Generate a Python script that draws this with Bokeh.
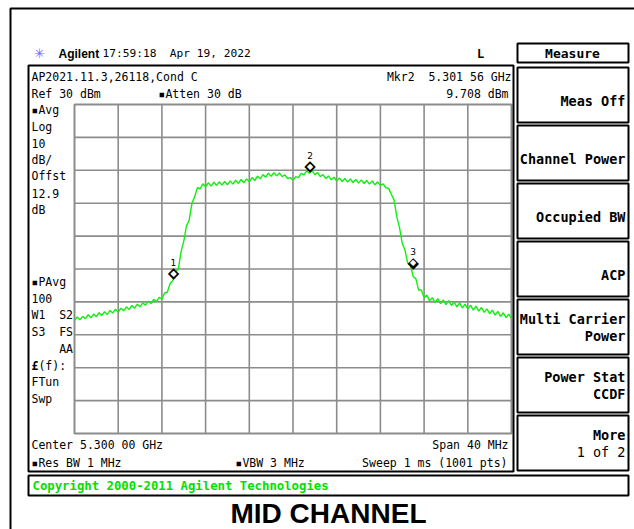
from bokeh.plotting import figure
from bokeh.models import Range1d, Label, BoxAnnotation, ColumnDataSource
from bokeh.core.properties import value
from bokeh.embed import file_html
from bokeh.resources import INLINE

# ---- trace data (frequency in MHz, level in dBm) ----
freq_mhz = [
    5280.00, 5280.25, 5280.50, 5280.75, 5281.00, 5281.25, 5281.50, 5281.75,
    5282.00, 5282.25, 5282.50, 5282.75, 5283.00, 5283.25, 5283.50, 5283.75,
    5284.00, 5284.25, 5284.50, 5284.75, 5285.00, 5285.25, 5285.50, 5285.75,
    5286.00, 5286.25, 5286.50, 5286.75, 5287.00, 5287.25, 5287.50, 5287.75,
    5288.00, 5288.25, 5288.50, 5288.75, 5289.00, 5289.25, 5289.50, 5289.75,
    5290.00, 5290.25, 5290.50, 5290.75, 5291.00, 5291.25, 5291.50, 5291.75,
    5292.00, 5292.25, 5292.50, 5292.75, 5293.00, 5293.25, 5293.50, 5293.75,
    5294.00, 5294.25, 5294.50, 5294.75, 5295.00, 5295.25, 5295.50, 5295.75,
    5296.00, 5296.25, 5296.50, 5296.75, 5297.00, 5297.25, 5297.50, 5297.75,
    5298.00, 5298.25, 5298.50, 5298.75, 5299.00, 5299.25, 5299.50, 5299.75,
    5300.00, 5300.25, 5300.50, 5300.75, 5301.00, 5301.25, 5301.50, 5301.75,
    5302.00, 5302.25, 5302.50, 5302.75, 5303.00, 5303.25, 5303.50, 5303.75,
    5304.00, 5304.25, 5304.50, 5304.75, 5305.00, 5305.25, 5305.50, 5305.75,
    5306.00, 5306.25, 5306.50, 5306.75, 5307.00, 5307.25, 5307.50, 5307.75,
    5308.00, 5308.25, 5308.50, 5308.75, 5309.00, 5309.25, 5309.50, 5309.75,
    5310.00, 5310.25, 5310.50, 5310.75, 5311.00, 5311.25, 5311.50, 5311.75,
    5312.00, 5312.25, 5312.50, 5312.75, 5313.00, 5313.25, 5313.50, 5313.75,
    5314.00, 5314.25, 5314.50, 5314.75, 5315.00, 5315.25, 5315.50, 5315.75,
    5316.00, 5316.25, 5316.50, 5316.75, 5317.00, 5317.25, 5317.50, 5317.75,
    5318.00, 5318.25, 5318.50, 5318.75, 5319.00, 5319.25, 5319.50, 5319.75,
    5320.00,
]
level_dbm = [
    -35.6, -34.6, -35.4, -34.4, -35.1, -33.9, -34.8, -33.7,
    -34.5, -33.3, -34.1, -33.0, -33.8, -32.6, -33.4, -32.2,
    -33.1, -31.9, -32.7, -31.5, -32.3, -31.1, -31.9, -30.7,
    -31.5, -30.3, -31.0, -29.8, -30.5, -29.2, -29.9, -28.6,
    -29.0, -27.3, -27.0, -24.4, -23.6, -20.8, -20.1, -14.8,
    -11.6, -6.9, -5.1, 0.0, 2.0, 4.7, 4.4, 5.9,
    5.0, 6.2, 5.2, 6.4, 5.4, 6.5, 5.5, 6.6,
    5.6, 6.8, 5.8, 7.0, 6.0, 7.2, 6.2, 7.4,
    6.5, 7.8, 6.9, 8.2, 7.4, 8.7, 7.9, 9.1,
    8.2, 9.3, 8.3, 9.2, 8.1, 8.6, 7.5, 7.8,
    7.0, 8.1, 7.8, 9.1, 8.6, 9.8, 9.1, 9.9,
    8.7, 9.3, 8.1, 8.7, 7.5, 8.3, 7.1, 7.9,
    6.7, 7.7, 6.6, 7.5, 6.4, 7.4, 6.3, 7.2,
    6.1, 7.1, 6.0, 6.9, 5.8, 6.8, 5.6, 6.5,
    5.4, 5.9, 4.7, 4.5, 2.7, 1.0, -4.1, -7.4,
    -12.2, -14.3, -18.2, -18.7, -22.3, -23.0, -26.4, -26.4,
    -28.7, -27.9, -29.7, -28.7, -30.2, -29.0, -30.5, -29.4,
    -30.8, -29.6, -31.1, -30.0, -31.5, -30.3, -31.8, -30.7,
    -32.1, -31.0, -32.5, -31.3, -32.8, -31.7, -33.2, -32.1,
    -33.6, -32.5, -34.0, -32.9, -34.4, -33.3, -34.8, -33.7,
    -35.0,
]

marker_freq_mhz = [5289.06, 5301.56, 5311.00]
marker_level_dbm = [-22.8, 9.708, -19.6]
marker_names = ["1", "2", "3"]

# screen settings: center 5300 MHz, span 40 MHz, ref 30 dBm, 10 dB/div
span_start, span_stop = 5280, 5320
ref_level, bottom_level = 30, -70
x_divisions = [5284, 5288, 5292, 5296, 5300, 5304, 5308, 5312, 5316]
y_divisions = [20, 10, 0, -10, -20, -30, -40, -50, -60]

left_annotations = ["▪Avg", "Log", "10", "dB/", "Offst", "12.9", "dB"]
left_annotations_low = ["▪PAvg", "100", "W1  S2", "S3  FS", "    AA", " (f):", "FTun", "Swp"]
softkeys = [["Meas Off"], ["Channel Power"], ["Occupied BW"], ["ACP"],
            ["Multi Carrier", "Power"], ["Power Stat", "CCDF"], ["More", "1 of 2"]]

# ---- layout (pixels) ----
W, H = 634, 529
GX0, GX1, GY0, GY1 = 74, 511, 104, 433   # graticule box on the canvas
mhz_per_px = (span_stop - span_start) / (GX1 - GX0)
db_per_px = (ref_level - bottom_level) / (GY1 - GY0)
x_range = Range1d(span_start - GX0 * mhz_per_px, span_stop + (W - GX1) * mhz_per_px)
y_range = Range1d(bottom_level - (H - GY1) * db_per_px, ref_level + GY0 * db_per_px)

p = figure(width=W, height=H, output_backend="svg", toolbar_location=None,
           x_range=x_range, y_range=y_range, min_border=0)
p.xaxis.visible = False
p.yaxis.visible = False
p.xgrid.visible = False
p.ygrid.visible = False
p.background_fill_color = "white"
p.border_fill_color = "white"
p.outline_line_color = None

GRID = "#8c8c8c"
p.segment(x0=x_divisions, x1=x_divisions, y0=[bottom_level] * len(x_divisions),
          y1=[ref_level] * len(x_divisions), line_color=GRID, line_width=1.6)
p.segment(x0=[span_start] * len(y_divisions), x1=[span_stop] * len(y_divisions),
          y0=y_divisions, y1=y_divisions, line_color=GRID, line_width=1.6)
p.quad(left=[span_start], right=[span_stop], bottom=[bottom_level], top=[ref_level],
       fill_alpha=0, line_color=GRID, line_width=2)

p.line(freq_mhz, level_dbm, line_color="#11ee11", line_width=1.4)

msrc = ColumnDataSource(dict(f=marker_freq_mhz, l=marker_level_dbm, n=marker_names,
                             d=["◆"] * len(marker_names)))
p.text(x="f", y="l", text="d", source=msrc, text_align="center", text_baseline="middle",
       text_font=value("DejaVu Sans"), text_font_size="15px", text_color="black", y_offset=-5)
p.text(x="f", y="l", text="d", source=msrc, text_align="center", text_baseline="middle",
       text_font=value("DejaVu Sans"), text_font_size="8px", text_color="white", y_offset=-5)
p.text(x="f", y="l", text="n", source=msrc, text_align="center", text_baseline="middle",
       text_font=value("DejaVu Sans"), text_font_size="9px", text_color="black", y_offset=-16)

MONO = "DejaVu Sans Mono"


def txt(X, Y, s, size="11.5px", align="left", bold=False, color="black", font=MONO):
    p.add_layout(Label(x=X, y=Y, x_units="canvas", y_units="canvas",
                       text=s.replace(" ", "\u00a0"),
                       text_align=align, text_baseline="middle", text_font_size=size,
                       text_font=font, text_font_style="bold" if bold else "normal",
                       text_color=color))


def box(X0, Y0, X1, Y1, w=2, color="black"):
    p.add_layout(BoxAnnotation(left=X0, right=X1, top=Y0, bottom=Y1,
                               left_units="canvas", right_units="canvas",
                               top_units="canvas", bottom_units="canvas",
                               fill_alpha=0, line_color=color, line_width=w, line_alpha=1))


# outer frame lines (left and top)
box(10, 8, 900, 900, w=2)

# header
txt(39, 53, "✳", size="13px", color="#6b6bff", font="DejaVu Sans", align="center")
txt(58, 53, "Agilent", size="12px", bold=True, font="Liberation Sans")
txt(102, 53, "17:59:18  Apr 19, 2022", size="11.2px")
txt(480, 53, "L", size="12px", bold=True, align="center")
box(517, 43, 628, 62)
txt(572, 53, "Measure", size="13px", bold=True, align="center")

# main panel
box(28, 65, 513, 471)
txt(31, 76, "AP2021.11.3,26118,Cond C")
txt(31, 93, "Ref 30 dBm")
txt(158, 93, "▪Atten 30 dB")
txt(511, 76, "Mkr2  5.301 56 GHz", align="right")
txt(508, 93, "9.708 dBm", align="right")
for i, s in enumerate(left_annotations):
    txt(31, 109.5 + i * 16.6, s)
for i, s in enumerate(left_annotations_low):
    txt(31, 281 + i * 16.8, s)
txt(31, 365.8, "£", bold=True)
txt(31, 444, "Center 5.300 00 GHz")
txt(508, 444, "Span 40 MHz", align="right")
txt(31, 462, "▪Res BW 1 MHz")
txt(235, 462, "▪VBW 3 MHz")
txt(507, 462, "Sweep 1 ms (1001 pts)", align="right")

# soft keys
key_tops = [67, 125, 183, 241, 299, 357, 415]
for top, lines in zip(key_tops, softkeys):
    box(517, top, 628, top + 55)
    if len(lines) == 1:
        txt(625, top + 33, lines[0], size="13.5px", bold=True, align="right")
    else:
        txt(625, top + 19, lines[0], size="13.5px", bold=True, align="right")
        txt(625, top + 36, lines[1], size="13.5px", bold=(lines[0] != "More"), align="right")

# copyright bar
box(28, 475, 628, 495)
txt(32, 485, "Copyright 2000-2011 Agilent Technologies", size="12.3px", bold=True, color="#00e000")

# caption
txt(328, 513, "MID CHANNEL", size="28px", bold=True, font="Liberation Sans", align="center")

open("out.html", "w").write(file_html(p, INLINE))
